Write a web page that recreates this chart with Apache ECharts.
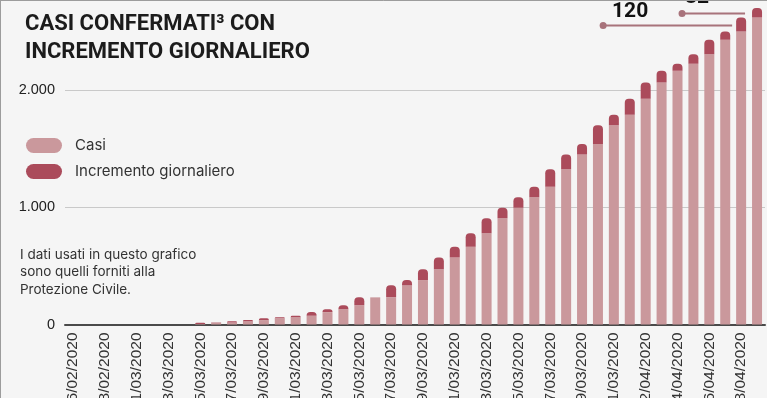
<!DOCTYPE html>
<html>
<head>
<meta charset="utf-8">
<script src="https://cdn.jsdelivr.net/npm/echarts@6/dist/echarts.min.js"></script>
<style>
html,body{margin:0;padding:0;background:#f5f5f5;}
#chart{width:767px;height:398px;}
</style>
</head>
<body>
<div id="chart"></div>
<script>
const categories = [
  '26/02/2020','27/02/2020','28/02/2020','29/02/2020','01/03/2020','02/03/2020','03/03/2020','04/03/2020',
  '05/03/2020','06/03/2020','07/03/2020','08/03/2020','09/03/2020','10/03/2020','11/03/2020','12/03/2020',
  '13/03/2020','14/03/2020','15/03/2020','16/03/2020','17/03/2020','18/03/2020','19/03/2020','20/03/2020',
  '21/03/2020','22/03/2020','23/03/2020','24/03/2020','25/03/2020','26/03/2020','27/03/2020','28/03/2020',
  '29/03/2020','30/03/2020','31/03/2020','01/04/2020','02/04/2020','03/04/2020','04/04/2020','05/04/2020',
  '06/04/2020','07/04/2020','08/04/2020','09/04/2020'
];
const casi = [
  0,0,0,0,0,0,0,0,
  4,16,17,28,38,53,62,74,
  106,130,164,232,232,336,380,472,
  572,665,779,908,998,1087,1178,1326,
  1452,1543,1703,1793,1930,2067,2169,2229,
  2309,2434,2503,2623
];
const incremento = [
  0,0,0,0,0,0,0,0,
  12,1,11,10,15,9,12,32,
  24,34,68,0,104,44,92,100,
  93,114,129,90,89,91,148,126,
  91,160,90,137,137,102,60,80,
  125,69,120,82
];
const yTicks = [0, 1000, 2000];
const seriesNames = ['Casi', 'Incremento giornaliero'];
const noteLines = ['I dati usati in questo grafico', 'sono quelli forniti alla', 'Protezione Civile.'];
const titleText = 'CASI CONFERMATI³ CON\nINCREMENTO GIORNALIERO';

const colCasi = '#ca989c';
const colInc = '#ab4b5b';
const fmt = v => String(v).replace(/\B(?=(\d{3})+(?!\d))/g, '.');

const chart = echarts.init(document.getElementById('chart'), null, {renderer: 'canvas'});
const pill = 'path://M7.5,0H28.5A7.5,7.5,0,0,1,28.5,15H7.5A7.5,7.5,0,0,1,7.5,0Z';

chart.setOption({
  backgroundColor: '#f5f5f5',
  animation: false,
  title: {
    text: titleText,
    left: 20, top: 5,
    textStyle: {fontFamily: 'Roboto', fontWeight: 700, fontSize: 22, lineHeight: 28.5, color: '#1c1c1c'}
  },
  legend: {
    orient: 'vertical', left: 21, top: 133,
    itemWidth: 36, itemHeight: 15, itemGap: 11,
    icon: pill,
    data: seriesNames,
    textStyle: {fontFamily: 'Inter', fontSize: 15, color: '#333', padding: [0, 0, 0, 8]}
  },
  grid: {left: 65, right: 2, top: 0, bottom: 73.5, containLabel: false, outerBoundsMode: 'none'},
  xAxis: {
    type: 'category',
    data: categories,
    axisTick: {show: false},
    axisLine: {lineStyle: {color: '#4a4a4a', width: 2}},
    axisLabel: {interval: 1, rotate: 90, fontSize: 15.5, fontFamily: 'Liberation Sans', color: '#333', margin: 8, hideOverlap: false}
  },
  yAxis: {
    type: 'value', min: 0, max: 2773, interval: 1000,
    axisLine: {show: false}, axisTick: {show: false},
    axisLabel: {
      fontSize: 14.5, fontFamily: 'Liberation Sans', color: '#222', margin: 10,
      formatter: v => yTicks.indexOf(v) >= 0 ? fmt(v) : ''
    },
    splitLine: {lineStyle: {color: '#c9c9c9', width: 1}}
  },
  series: [
    {name: seriesNames[0], type: 'bar', stack: 't', data: casi, barWidth: 10,
     itemStyle: {color: colCasi}},
    {name: seriesNames[1], type: 'bar', stack: 't', data: incremento, barWidth: 10,
     itemStyle: {color: colInc, borderRadius: [4, 4, 0, 0]}}
  ]
});

function annot(idx, dxStart, dxEnd, dxText, dyText) {
  const mid = casi[idx] + incremento[idx] / 2;
  const p = chart.convertToPixel({gridIndex: 0}, [idx, mid]);
  const y = Math.round(p[1]) + 0.5;
  const lc = '#a8737b';
  return [
    {type: 'line', shape: {x1: p[0] + dxStart, y1: y, x2: p[0] + dxEnd, y2: y}, style: {stroke: lc, lineWidth: 2}, z: 10},
    {type: 'circle', shape: {cx: p[0] + dxStart, cy: y, r: 3.5}, style: {fill: lc}, z: 10},
    {type: 'text', x: p[0] + dxText, y: y + dyText, style: {text: String(incremento[idx]), fontFamily: 'Roboto', fontWeight: 700, fontSize: 21, fill: '#111', align: 'center', verticalAlign: 'middle'}, z: 10}
  ];
}

const n = categories.length;
const graphics = [
  {type: 'text', left: 20, top: 246, style: {text: noteLines.join('\n'), fontFamily: 'Inter', fontSize: 13.5, lineHeight: 17.5, fill: '#333'}},
  {type: 'line', shape: {x1: 0.5, y1: 0, x2: 0.5, y2: 398}, style: {stroke: '#9c9c9c', lineWidth: 1}, z: 20},
  {type: 'line', shape: {x1: 0, y1: 0.5, x2: 767, y2: 0.5}, style: {stroke: '#9c9c9c', lineWidth: 1}, z: 20}
].concat(annot(n - 2, -138, -9, -111, -14)).concat(annot(n - 1, -75, -12, -60, -16));

chart.setOption({graphic: graphics});
</script>
</body>
</html>
